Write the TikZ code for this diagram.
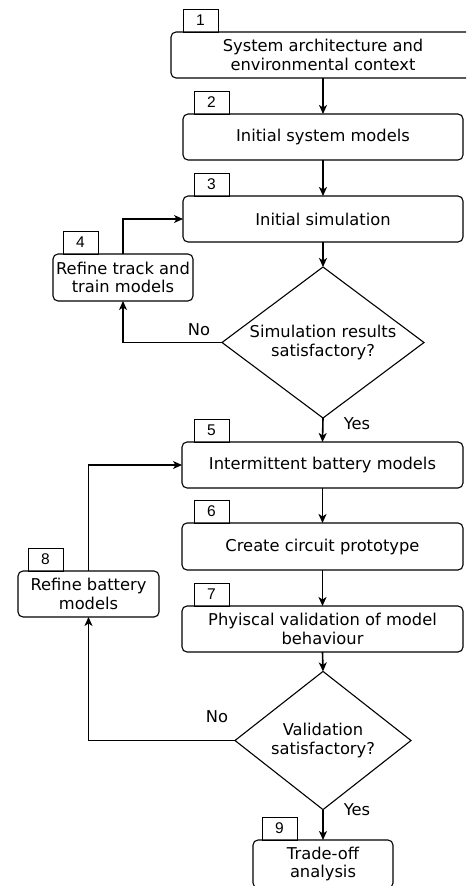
\documentclass[tikz,border=0pt]{standalone}
\usepackage{fontspec}
\setmainfont{DejaVu Sans}
\newfontfamily\numfont{Liberation Sans}
\usetikzlibrary{shapes.geometric,arrows.meta}
\begin{document}
\begin{tikzpicture}[x=1pt,y=-1pt,
  every node/.style={inner sep=0pt, outer sep=0pt},
  box/.style={draw, rounded corners=5pt, line width=1.1pt, align=center, font=\fontsize{16.3}{18.5}\selectfont},
  tab/.style={draw, line width=0.9pt, font=\numfont\fontsize{15.5}{17}\selectfont, minimum width=35pt, minimum height=23pt},
  dec/.style={draw, diamond, line width=1.1pt, align=center, font=\fontsize{16.3}{18.5}\selectfont},
  lab/.style={font=\fontsize{16.3}{18.5}\selectfont},
  arr/.style={-{Stealth[length=9pt,width=8pt,inset=2.5pt]}, line width=1.1pt},
  varr/.style={-{Stealth[length=9pt,width=8pt,inset=2.5pt]}, line width=1.6pt}]
\useasboundingbox (0,0) rectangle (466,886);
\clip (0,0) rectangle (466,886);
% boxes
\node[box, minimum width=304pt, minimum height=46pt] (b1) at (323,55) {System architecture and\\environmental context};
\node[box, minimum width=280pt, minimum height=46pt] (b2) at (323,137) {Initial system models};
\node[box, minimum width=280pt, minimum height=46pt] (b3) at (323,219) {Initial simulation};
\node[box, minimum width=140pt, minimum height=47pt] (b4) at (123,277.5) {Refine track and\\train models};
\node[dec, minimum width=202pt, minimum height=151pt, aspect=1.34] (d1) at (323,342.5) {Simulation results\\satisfactory?};
\node[box, minimum width=281pt, minimum height=46pt] (b5) at (322.5,465) {Intermittent battery models};
\node[box, minimum width=281pt, minimum height=47pt] (b6) at (322.5,546.5) {Create circuit prototype};
\node[box, minimum width=281pt, minimum height=46pt] (b7) at (322.5,629) {Phyiscal validation of model\\behaviour};
\node[box, minimum width=141pt, minimum height=46pt] (b8) at (88.5,594) {Refine battery\\models};
\node[dec, minimum width=176pt, minimum height=127pt] (d2) at (323,740.5) {Validation\\satisfactory?};
\node[box, minimum width=140pt, minimum height=48pt] (b9) at (323,864) {Trade-off\\analysis};
% tabs
\node[tab, anchor=south west] (t1) at (183,32) {1};
\node[tab, anchor=south west] (t2) at (194,114) {2};
\node[tab, anchor=south west] (t3) at (194,196) {3};
\node[tab, anchor=south west] (t4) at (63,254) {4};
\node[tab, anchor=south west] (t5) at (194,442) {5};
\node[tab, anchor=south west] (t6) at (194,523) {6};
\node[tab, anchor=south west] (t7) at (194,606) {7};
\node[tab, anchor=south west] (t8) at (28,571) {8};
\node[tab, anchor=south west] (t9) at (262,840) {9};
% connectors
\draw[varr] (b1.south) -- (b2.north);
\draw[varr] (b2.south) -- (b3.north);
\draw[varr] (b3.south) -- (d1.north);
\draw[arr] (d1.west) -| (b4.south);
\draw[arr] (b4.north) |- (b3.west);
\draw[varr] (d1.south) -- (b5.north);
\draw[varr] (b5.south) -- (b6.north);
\draw[varr] (b6.south) -- (b7.north);
\draw[varr] (b7.south) -- (d2.north);
\draw[arr] (d2.west) -| (b8.south);
\draw[arr] (b8.north) |- (b5.west);
\draw[varr] (d2.south) -- (b9.north);
% labels
\node[lab] (no1) at (199,330) {No};
\node[lab] (yes1) at (357,424) {Yes};
\node[lab] (no2) at (217,717) {No};
\node[lab] (yes2) at (357,810) {Yes};
\end{tikzpicture}
\end{document}
